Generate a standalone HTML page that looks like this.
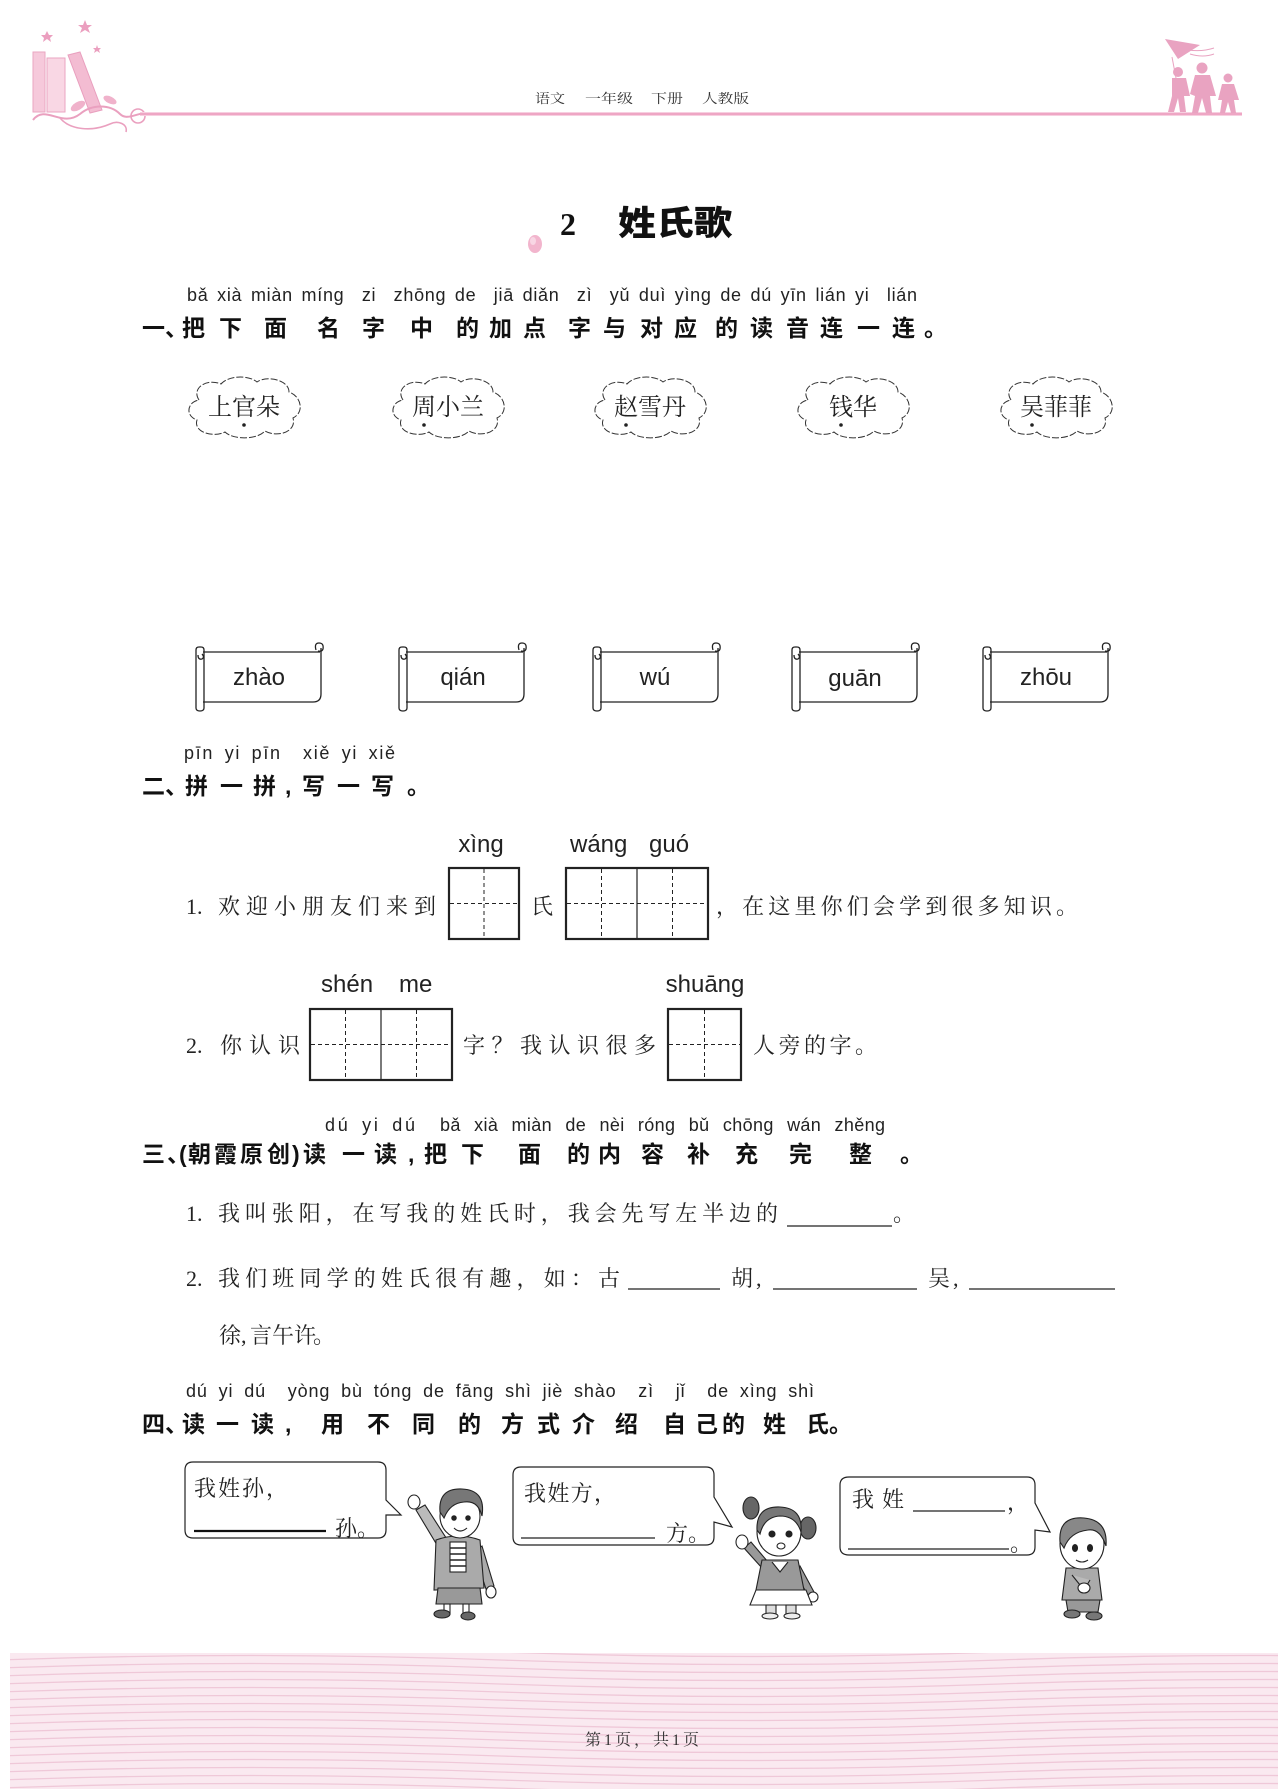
<!DOCTYPE html>
<html lang="zh">
<head>
<meta charset="utf-8">
<title>姓氏歌</title>
<style>
  html,body{margin:0;padding:0;background:#fff;}
  svg{display:block;}
  .py{font-family:"Liberation Sans","DejaVu Sans",sans-serif;font-size:18px;fill:#222;white-space:pre;}
  .py2{font-family:"Liberation Sans","DejaVu Sans",sans-serif;font-size:24px;fill:#222;white-space:pre;}
  .hd{font-family:"Liberation Sans","Noto Sans CJK SC",sans-serif;font-weight:700;font-size:23px;fill:#111;}
  .bd{font-family:"Liberation Serif","Noto Serif CJK SC",serif;font-size:22px;fill:#222;}
  .cl{font-family:"Liberation Serif","Noto Serif CJK SC",serif;font-size:24px;fill:#222;}
  .bb{font-family:"Liberation Serif","Noto Serif CJK SC",serif;font-size:22px;fill:#222;}
  .hdr{font-family:"Liberation Serif","Noto Serif CJK SC",serif;font-size:13px;fill:#333;}
  .ttl{font-family:"Liberation Sans","Noto Sans CJK SC",sans-serif;font-weight:900;font-size:34px;fill:#111;}
</style>
</head>
<body>
<svg width="1287" height="1789" viewBox="0 0 1287 1789" xmlns="http://www.w3.org/2000/svg">
  <defs>
    <symbol id="cloud" viewBox="0 0 118 62" width="118" height="62" overflow="visible">
      <path d="M14,24 C6,12 22,2 36,8 C44,-1 64,-1 72,6 C82,-1 104,4 104,16 C116,20 120,36 108,42 C112,56 92,62 80,55 C72,64 48,64 40,56 C28,62 8,56 12,44 C0,40 2,26 14,24 Z"
            fill="#fff" stroke="#333" stroke-width="1" stroke-dasharray="7 2"/>
    </symbol>
    <symbol id="scroll" viewBox="0 -10 132 72" width="132" height="72" overflow="visible">
      <g fill="none" stroke="#222" stroke-width="1.3">
        <path d="M10,0 H127"/>
        <path d="M128,-4 V42 Q128,50 120,50 H10"/>
        <path d="M3,-2 Q3,-5 6,-5 H8 Q11,-5 11,-2 V56 Q11,59 7,59 Q3,59 3,56 Z"/>
        <path d="M5,3 Q5,8 9,7 Q12,5 9,2"/>
        <path d="M123,-2 Q121,-9 126,-9 Q131,-9 130,-3 Q129,0 125,-1"/>
      </g>
    </symbol>
    <clipPath id="bandclip"><rect x="10" y="1653" width="1268" height="136"/></clipPath>
  </defs>

  <!-- ===== HEADER ===== -->
  <g>
    <rect x="33" y="52" width="12" height="60" fill="#f6c9db" stroke="#eaa6c2" stroke-width="1"/>
    <rect x="47" y="58" width="18" height="54" fill="#f9d7e4" stroke="#eaa6c2" stroke-width="1"/>
    <polygon points="68,55 80,52 102,110 90,113" fill="#f3bcd2" stroke="#e99fbe" stroke-width="1"/>
    <polygon points="47,31 49,35 53,35 50,38 51,42 47,39 43,42 44,38 41,35 45,35" fill="#eb9fbf"/>
    <polygon points="85,20 87,25 92,25 88,28 90,33 85,30 80,33 82,28 78,25 83,25" fill="#eb9fbf"/>
    <polygon points="97,45 98,48 101,48 99,50 100,53 97,51 94,53 95,50 93,48 96,48" fill="#eb9fbf"/>
    <path d="M33,120 C45,104 62,128 80,114 C92,104 110,104 120,114 C128,122 140,110 150,114" fill="none" stroke="#eaa0bf" stroke-width="2"/>
    <path d="M60,118 C70,130 92,132 110,124 C118,120 128,124 126,132" fill="none" stroke="#eaa0bf" stroke-width="1.6"/>
    <ellipse cx="78" cy="106" rx="8" ry="4" fill="#f0b2cb" transform="rotate(-30 78 106)"/>
    <ellipse cx="110" cy="100" rx="7" ry="3.5" fill="#f0b2cb" transform="rotate(25 110 100)"/>
    <circle cx="138" cy="116" r="7" fill="none" stroke="#eaa0bf" stroke-width="1.6"/>
  </g>
  <rect x="140" y="112" width="1102" height="4" fill="#f7cfe0"/>
  <rect x="140" y="113" width="1102" height="2" fill="#eea6c4"/>
  <g fill="#e9a3c1">
    <polygon points="1165,39 1200,45 1178,59"/>
    <path d="M1188,50 Q1202,52 1214,48 M1190,54 Q1203,58 1214,54" stroke="#e9a3c1" stroke-width="1" fill="none"/>
    <path d="M1172,57 L1176,78" stroke="#e9a3c1" stroke-width="1" fill="none"/>
    <circle cx="1178" cy="72" r="5"/>
    <path d="M1172,78 L1186,78 L1190,96 L1184,96 L1186,112 L1180,112 L1178,98 L1174,112 L1168,112 L1172,96 Z"/>
    <circle cx="1202" cy="68" r="5.5"/>
    <path d="M1195,75 L1210,75 L1216,96 L1210,96 L1212,113 L1206,113 L1202,98 L1198,113 L1192,113 L1195,96 L1190,94 Z"/>
    <circle cx="1228" cy="78" r="4.5"/>
    <path d="M1222,84 L1234,84 L1239,100 L1234,100 L1236,113 L1231,113 L1228,102 L1225,113 L1220,113 L1222,100 L1218,100 Z"/>
  </g>
  <text class="hdr" x="535" y="103" textLength="30" lengthAdjust="spacingAndGlyphs">语文</text>
  <text class="hdr" x="585" y="103" textLength="48" lengthAdjust="spacingAndGlyphs">一年级</text>
  <text class="hdr" x="651" y="103" textLength="32" lengthAdjust="spacingAndGlyphs">下册</text>
  <text class="hdr" x="702" y="103" textLength="47" lengthAdjust="spacingAndGlyphs">人教版</text>

  <!-- ===== TITLE ===== -->
  <ellipse cx="535" cy="244" rx="7" ry="9" fill="#f2b5cd"/>
  <ellipse cx="533" cy="241" rx="3" ry="4" fill="#f8d6e4"/>
  <text x="560" y="235" style="font-family:'Liberation Serif',serif;font-weight:700;font-size:32px;fill:#111;">2</text>
  <text class="ttl" x="618" y="235" textLength="114" lengthAdjust="spacingAndGlyphs">姓氏歌</text>

  <!-- ===== SECTION 一 ===== -->
  <text class="py" x="187" y="301" textLength="730" lengthAdjust="spacing" style="word-spacing:3px">bǎ xià miàn míng  zi  zhōng de  jiā diǎn  zì  yǔ duì yìng de dú yīn lián yi  lián</text>
  <text class="hd" x="142 165 182 219 264 317 362 410 456 489 523 568 603 640 674 715 750 786 820 857 892 924" y="336">一、把下面名字中的加点字与对应的读音连一连。</text>

  <use href="#cloud" x="185" y="376"/>
  <use href="#cloud" x="389" y="376"/>
  <use href="#cloud" x="591" y="376"/>
  <use href="#cloud" x="794" y="376"/>
  <use href="#cloud" x="997" y="376"/>
  <g class="cl" text-anchor="middle">
    <text x="244" y="415">上官朵</text>
    <text x="448" y="415">周小兰</text>
    <text x="650" y="415">赵雪丹</text>
    <text x="853" y="415">钱华</text>
    <text x="1056" y="415">吴菲菲</text>
  </g>
  <g fill="#222">
    <circle cx="244" cy="425" r="1.8"/>
    <circle cx="424" cy="425" r="1.8"/>
    <circle cx="626" cy="425" r="1.8"/>
    <circle cx="841" cy="425" r="1.8"/>
    <circle cx="1032" cy="425" r="1.8"/>
  </g>

  <use href="#scroll" x="193" y="642"/>
  <use href="#scroll" x="396" y="642"/>
  <use href="#scroll" x="590" y="642"/>
  <use href="#scroll" x="789" y="642"/>
  <use href="#scroll" x="980" y="642"/>
  <g class="py2" text-anchor="middle">
    <text x="259" y="685">zhào</text>
    <text x="463" y="685">qián</text>
    <text x="655" y="685">wú</text>
    <text x="855" y="686">guān</text>
    <text x="1046" y="685">zhōu</text>
  </g>

  <!-- ===== SECTION 二 ===== -->
  <text class="py" x="184" y="759" textLength="211" lengthAdjust="spacing" style="word-spacing:4px">pīn yi pīn  xiě yi xiě</text>
  <text class="hd" x="142 165 185 220 253 285 302 337 371 407" y="794">二、拼一拼,写一写。</text>

  <!-- row 1 -->
  <text class="bd" x="186" y="914">1.</text>
  <text class="bd" x="218" y="914" textLength="218" lengthAdjust="spacing">欢迎小朋友们来到</text>
  <text class="py2" x="481" y="852" text-anchor="middle">xìng</text>
  <g fill="none" stroke="#222">
    <rect x="449" y="868" width="70" height="71" stroke-width="2.2"/>
    <path d="M484,869 V938 M450,903.5 H518" stroke-width="1" stroke-dasharray="4 3"/>
  </g>
  <text class="bd" x="531" y="914">氏</text>
  <text class="py2" x="570" y="852">wáng</text>
  <text class="py2" x="649" y="852">guó</text>
  <g fill="none" stroke="#222">
    <rect x="566" y="868" width="142" height="71" stroke-width="2.2"/>
    <path d="M637,868 V939" stroke-width="1.2"/>
    <path d="M601.5,869 V938 M672.5,869 V938 M567,903.5 H707" stroke-width="1" stroke-dasharray="4 3"/>
  </g>
  <text class="bd" x="716" y="914" textLength="362" lengthAdjust="spacing">，在这里你们会学到很多知识。</text>

  <!-- row 2 -->
  <text class="bd" x="186" y="1053">2.</text>
  <text class="bd" x="220" y="1053" textLength="80" lengthAdjust="spacing">你认识</text>
  <text class="py2" x="321" y="992">shén</text>
  <text class="py2" x="399" y="992">me</text>
  <g fill="none" stroke="#222">
    <rect x="310" y="1009" width="142" height="71" stroke-width="2.2"/>
    <path d="M381,1009 V1080" stroke-width="1.2"/>
    <path d="M345.5,1010 V1079 M416.5,1010 V1079 M311,1044.5 H451" stroke-width="1" stroke-dasharray="4 3"/>
  </g>
  <text class="bd" x="463" y="1053" textLength="193" lengthAdjust="spacing">字？我认识很多</text>
  <text class="py2" x="705" y="992" text-anchor="middle">shuāng</text>
  <g fill="none" stroke="#222">
    <rect x="668" y="1009" width="73" height="71" stroke-width="2.2"/>
    <path d="M704.5,1010 V1079 M669,1044.5 H740" stroke-width="1" stroke-dasharray="4 3"/>
  </g>
  <text class="bd" x="753" y="1053" textLength="124" lengthAdjust="spacing">人旁的字。</text>

  <!-- ===== SECTION 三 ===== -->
  <text class="py" x="325" y="1131" textLength="90" lengthAdjust="spacing" style="word-spacing:4px">dú yi dú</text>
  <text class="py" x="440" y="1131" textLength="445" lengthAdjust="spacing" style="word-spacing:8px">bǎ xià miàn de nèi róng bǔ chōng wán zhěng</text>
  <text class="hd" x="142 167 179 188 214 240 267 292 303 342 374 408 424 461 518 567 598 641 687 735 789 849 900" y="1162">三、(朝霞原创)读一读,把下面的内容补充完整。</text>

  <text class="bd" x="186" y="1221">1.</text>
  <text class="bd" x="218" y="1221" textLength="560" lengthAdjust="spacing">我叫张阳，在写我的姓氏时，我会先写左半边的</text>
  <path d="M787,1226 H892" stroke="#222" stroke-width="1.3"/>
  <text class="bd" x="893" y="1221">。</text>

  <text class="bd" x="186" y="1286">2.</text>
  <text class="bd" x="218" y="1286" textLength="402" lengthAdjust="spacing">我们班同学的姓氏很有趣，如：古</text>
  <path d="M628,1289 H720" stroke="#222" stroke-width="1.3"/>
  <text class="bd" x="731 756" y="1286">胡,</text>
  <path d="M773,1289 H917" stroke="#222" stroke-width="1.3"/>
  <text class="bd" x="928 953" y="1286">吴,</text>
  <path d="M969,1289 H1115" stroke="#222" stroke-width="1.3"/>
  <text class="bd" x="219 241 250 272 294 313" y="1343">徐,言午许。</text>

  <!-- ===== SECTION 四 ===== -->
  <text class="py" x="186" y="1397" textLength="628" lengthAdjust="spacing" style="word-spacing:5px">dú yi dú  yòng bù tóng de fāng shì jiè shào  zì  jǐ  de xìng shì</text>
  <text class="hd" x="142 165 182 216 251 285 321 367 412 458 501 537 572 615 663 695 722 763 806 829" y="1432">四、读一读,用不同的方式介绍自己的姓氏。</text>

  <g fill="#fff" stroke="#222" stroke-width="1.2">
    <path d="M193,1462 H378 Q386,1462 386,1470 V1500 L401,1515 L386,1515 V1530 Q386,1538 378,1538 H193 Q185,1538 185,1530 V1470 Q185,1462 193,1462 Z"/>
    <path d="M521,1467 H706 Q714,1467 714,1475 V1497 L732,1527 L714,1522 V1537 Q714,1545 706,1545 H521 Q513,1545 513,1537 V1475 Q513,1467 521,1467 Z"/>
    <path d="M849,1477 H1027 Q1035,1477 1035,1485 V1503 L1050,1532 L1035,1530 V1547 Q1035,1555 1027,1555 H849 Q840,1555 840,1547 V1485 Q840,1477 849,1477 Z"/>
  </g>
  <text class="bb" x="194" y="1496" textLength="94" lengthAdjust="spacing">我姓孙，</text>
  <path d="M194,1531 H326" stroke="#111" stroke-width="2.2"/>
  <text class="bb" x="335" y="1536">孙。</text>

  <text class="bb" x="524" y="1501" textLength="92" lengthAdjust="spacing">我姓方，</text>
  <path d="M521,1538 H655" stroke="#222" stroke-width="1.3"/>
  <text class="bb" x="666" y="1541">方。</text>

  <text class="bb" x="852" y="1507" textLength="52" lengthAdjust="spacing">我姓</text>
  <path d="M913,1511 H1005" stroke="#222" stroke-width="1.3"/>
  <text class="bb" x="1007" y="1510">，</text>
  <path d="M848,1549 H1009" stroke="#222" stroke-width="1.3"/>
  <text class="bb" x="1010" y="1551">。</text>

  <!-- figure: boy 1 -->
  <g stroke="#222" stroke-width="1.1">
    <path d="M440,1550 L416,1510 L425,1505 L450,1544 Z" fill="#bbb"/>
    <ellipse cx="414" cy="1502" rx="6" ry="7" fill="#fff"/>
    <path d="M482,1546 L494,1586 L486,1589 L474,1552 Z" fill="#aaa"/>
    <ellipse cx="491" cy="1592" rx="5" ry="6" fill="#fff"/>
    <path d="M436,1540 Q458,1532 480,1540 L484,1588 L434,1590 Z" fill="#aaa"/>
    <rect x="450" y="1542" width="16" height="30" fill="#fff"/>
    <path d="M450,1548 H466 M450,1554 H466 M450,1560 H466 M450,1566 H466" stroke-width="1.5"/>
    <path d="M438,1588 H480 L482,1604 H436 Z" fill="#999"/>
    <rect x="444" y="1604" width="6" height="10" fill="#fff"/>
    <rect x="463" y="1604" width="6" height="10" fill="#fff"/>
    <ellipse cx="442" cy="1614" rx="8" ry="4" fill="#666"/>
    <ellipse cx="468" cy="1616" rx="7" ry="4" fill="#666"/>
    <ellipse cx="460" cy="1516" rx="20" ry="22" fill="#fff"/>
    <path d="M440,1512 Q438,1488 462,1489 Q486,1490 482,1516 Q478,1500 464,1502 Q450,1503 444,1518 Z" fill="#777"/>
    <circle cx="454" cy="1518" r="2.2" fill="#222"/>
    <circle cx="468" cy="1518" r="2.2" fill="#222"/>
    <path d="M454,1528 Q460,1534 467,1528" fill="#fff"/>
  </g>

  <!-- figure: girl -->
  <g stroke="#222" stroke-width="1.1">
    <ellipse cx="751" cy="1508" rx="8" ry="11" fill="#666"/>
    <ellipse cx="808" cy="1528" rx="8" ry="11" fill="#666"/>
    <path d="M762,1568 L744,1548 L751,1542 L768,1562 Z" fill="#999"/>
    <ellipse cx="742" cy="1542" rx="6" ry="7" fill="#fff"/>
    <path d="M800,1566 L814,1592 L808,1595 L794,1572 Z" fill="#999"/>
    <ellipse cx="813" cy="1597" rx="5" ry="5" fill="#fff"/>
    <path d="M762,1560 H798 L804,1590 H756 Z" fill="#999"/>
    <path d="M772,1562 L780,1572 L788,1562" fill="#fff"/>
    <path d="M756,1590 H806 L812,1605 H750 Z" fill="#fff"/>
    <rect x="766" y="1605" width="10" height="10" fill="#ddd"/>
    <rect x="786" y="1605" width="10" height="10" fill="#ddd"/>
    <ellipse cx="770" cy="1616" rx="8" ry="3" fill="#eee"/>
    <ellipse cx="792" cy="1616" rx="8" ry="3" fill="#eee"/>
    <ellipse cx="779" cy="1532" rx="22" ry="24" fill="#fff"/>
    <path d="M757,1530 Q756,1506 780,1507 Q803,1508 801,1532 Q796,1516 780,1516 Q764,1517 760,1534 Z" fill="#777"/>
    <circle cx="772" cy="1534" r="3" fill="#222"/>
    <circle cx="789" cy="1534" r="3" fill="#222"/>
    <ellipse cx="781" cy="1546" rx="4" ry="3" fill="#fff"/>
  </g>

  <!-- figure: boy 2 -->
  <g stroke="#222" stroke-width="1.1">
    <path d="M1066,1568 H1098 L1102,1600 H1062 Z" fill="#aaa"/>
    <path d="M1072,1575 L1084,1590 L1090,1580" fill="#bbb"/>
    <ellipse cx="1084" cy="1588" rx="6" ry="5" fill="#fff"/>
    <path d="M1066,1600 H1100 L1098,1612 H1068 Z" fill="#999"/>
    <ellipse cx="1072" cy="1614" rx="8" ry="4" fill="#777"/>
    <ellipse cx="1094" cy="1616" rx="8" ry="4" fill="#777"/>
    <ellipse cx="1082" cy="1544" rx="22" ry="25" fill="#fff"/>
    <path d="M1060,1542 Q1058,1516 1084,1518 Q1108,1520 1106,1546 Q1100,1528 1088,1530 Q1070,1532 1064,1548 Z" fill="#888"/>
    <ellipse cx="1075" cy="1548" rx="2.5" ry="3.5" fill="#222"/>
    <ellipse cx="1090" cy="1548" rx="2.5" ry="3.5" fill="#222"/>
    <path d="M1076,1560 Q1082,1564 1088,1560" fill="none"/>
  </g>

  <!-- ===== FOOTER ===== -->
  <rect x="10" y="1653" width="1268" height="136" fill="#fae9f0"/>
  <g clip-path="url(#bandclip)" fill="none" stroke="#efc8d8" stroke-width="1.3">
    <path d="M0,1652 Q250,1643 500,1652 T1000,1652 T1500,1652"/>
    <path d="M0,1660 Q250,1651 500,1660 T1000,1660 T1500,1660"/>
    <path d="M0,1668 Q250,1659 500,1668 T1000,1668 T1500,1668"/>
    <path d="M0,1676 Q250,1667 500,1676 T1000,1676 T1500,1676"/>
    <path d="M0,1684 Q250,1675 500,1684 T1000,1684 T1500,1684"/>
    <path d="M0,1692 Q250,1683 500,1692 T1000,1692 T1500,1692"/>
    <path d="M0,1700 Q250,1691 500,1700 T1000,1700 T1500,1700"/>
    <path d="M0,1708 Q250,1699 500,1708 T1000,1708 T1500,1708"/>
    <path d="M0,1716 Q250,1707 500,1716 T1000,1716 T1500,1716"/>
    <path d="M0,1724 Q250,1715 500,1724 T1000,1724 T1500,1724"/>
    <path d="M0,1732 Q250,1723 500,1732 T1000,1732 T1500,1732"/>
    <path d="M0,1740 Q250,1731 500,1740 T1000,1740 T1500,1740"/>
    <path d="M0,1748 Q250,1739 500,1748 T1000,1748 T1500,1748"/>
    <path d="M0,1756 Q250,1747 500,1756 T1000,1756 T1500,1756"/>
    <path d="M0,1764 Q250,1755 500,1764 T1000,1764 T1500,1764"/>
    <path d="M0,1772 Q250,1763 500,1772 T1000,1772 T1500,1772"/>
    <path d="M0,1780 Q250,1771 500,1780 T1000,1780 T1500,1780"/>
    <path d="M0,1788 Q250,1779 500,1788 T1000,1788 T1500,1788"/>
    <path d="M0,1796 Q250,1787 500,1796 T1000,1796 T1500,1796"/>
  </g>
  <text x="642" y="1745" text-anchor="middle" textLength="114" lengthAdjust="spacing" style="font-family:'Liberation Serif','Noto Serif CJK SC',serif;font-size:16px;fill:#333;">第1页，共1页</text>
</svg>
</body>
</html>
